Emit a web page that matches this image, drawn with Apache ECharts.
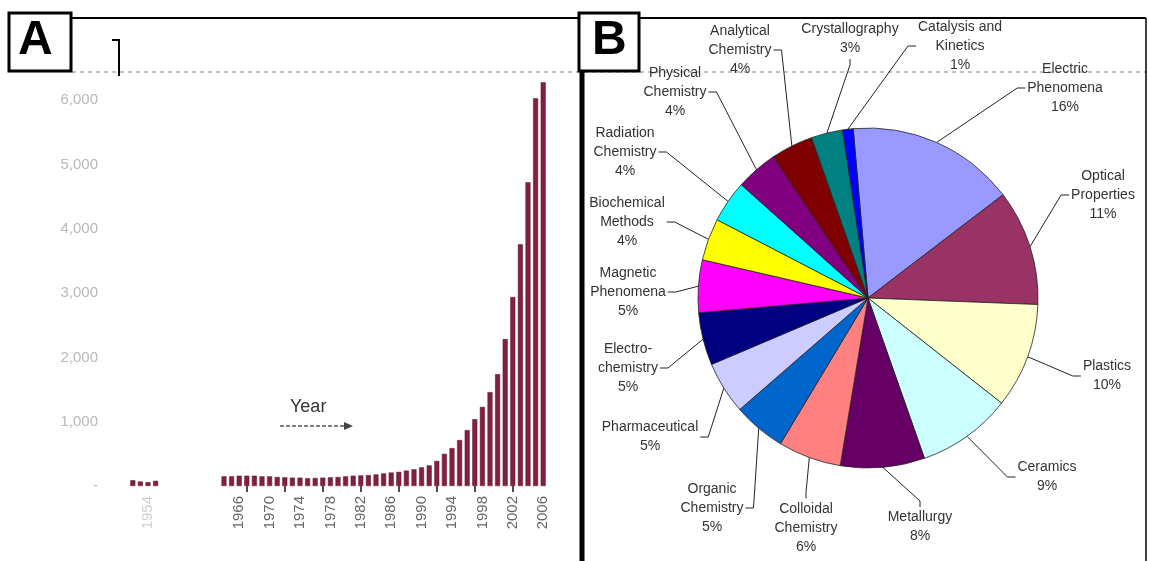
<!DOCTYPE html>
<html>
<head>
<meta charset="utf-8">
<title>Publications by year / topic</title>
<script src="https://cdn.jsdelivr.net/npm/echarts@6/dist/echarts.min.js"></script>
<style>
  html, body { margin: 0; padding: 0; background: #fff; }
  #chart { width: 1149px; height: 561px; }
</style>
</head>
<body>
<div id="chart"></div>
<script>
// panel A - papers per year
var years = ['1952', '1953', '1954', '1955', '1956', '1957', '1958', '1959', '1960', '1961', '1962', '1963',
  '1964', '1965', '1966', '1967', '1968', '1969', '1970', '1971', '1972', '1973', '1974', '1975', '1976',
  '1977', '1978', '1979', '1980', '1981', '1982', '1983', '1984', '1985', '1986', '1987', '1988', '1989',
  '1990', '1991', '1992', '1993', '1994', '1995', '1996', '1997', '1998', '1999', '2000', '2001', '2002',
  '2003', '2004', '2005', '2006']
var papers = [90, 70, 60, 80, '-', '-', '-', '-', '-', '-', '-', '-',
  150, 150, 160, 160, 160, 150, 150, 140, 135, 130, 130, 120, 125,
  130, 135, 140, 150, 160, 165, 170, 180, 195, 210, 220, 240, 260,
  290, 320, 390, 500, 590, 715, 870, 1040, 1230, 1460, 1740, 2285, 2940,
  3760, 4725, 6030, 6280]
var yTicks = [0, 1000, 2000, 3000, 4000, 5000, 6000]

// panel B - share by topic
var topics = ['Electric\nPhenomena', 'Optical\nProperties', 'Plastics', 'Ceramics', 'Metallurgy',
  'Colloidal\nChemistry', 'Organic\nChemistry', 'Pharmaceutical', 'Electro-\nchemistry',
  'Magnetic\nPhenomena', 'Biochemical\nMethods', 'Radiation\nChemistry', 'Physical\nChemistry',
  'Analytical\nChemistry', 'Crystallography', 'Catalysis and\nKinetics']
var shares = [16, 11, 10, 9, 8, 6, 5, 5, 5, 5, 4, 4, 4, 4, 3, 1]
var topicColors = ['#9999ff', '#993366', '#ffffcc', '#ccffff', '#660066', '#ff8080', '#0066cc', '#ccccff',
  '#000080', '#ff00ff', '#ffff00', '#00ffff', '#800080', '#800000', '#008080', '#0000ff']

// label placement around the pie (offset of label centre from pie centre)
var labelOffsets = [[197, -210], [235, -103], [239, 78], [179, 179], [52, 229], [-62, 230], [-156, 210],
  [-218, 139], [-240, 70], [-240, -6], [-241, -76], [-243, -146], [-193, -206], [-128, -248],
  [-18, -259], [92, -252]]

var PIE_X = 868
var PIE_Y = 298
var PIE_R = 170
var START = 95 // echarts startAngle

function midAngle(i) {
  var total = 0, before = 0
  for (var k = 0; k < shares.length; k++) {
    total += shares[k]
    if (k < i) before += shares[k]
  }
  return (90 - START) + 360 * (before + shares[i] / 2) / total
}

var chart = echarts.init(document.getElementById('chart'))

chart.setOption({
  animation: false,
  textStyle: { fontFamily: 'Arial, "Liberation Sans", sans-serif' },
  grid: { left: 129, width: 418, top: 36, bottom: 75 },
  xAxis: {
    type: 'category',
    data: years,
    axisLine: { show: false },
    axisTick: {
      show: true,
      alignWithLabel: true,
      length: 6,
      interval: function(i, v) { var y = +v; return y >= 1967 && (y - 1967) % 5 === 0 },
      lineStyle: { color: '#111', width: 1.5 }
    },
    axisLabel: {
      rotate: 90,
      fontSize: 15,
      margin: 10,
      color: function(v) { return +v < 1960 ? '#cfcfcf' : '#666' },
      interval: function(i, v) {
        var y = +v
        return y === 1954 || (y >= 1966 && (y - 1966) % 4 === 0)
      }
    }
  },
  yAxis: {
    type: 'value',
    min: 0,
    max: 7000,
    interval: 1000,
    splitLine: { show: false },
    axisLine: { show: false },
    axisTick: { show: false },
    axisLabel: {
      margin: 31,
      fontSize: 15,
      color: '#b8b8b8',
      formatter: function(v) {
        if (yTicks.indexOf(v) < 0) return ''
        return v === 0 ? '-' : (v / 1000) + ',000'
      }
    }
  },
  series: [
    {
      type: 'bar',
      data: papers,
      barWidth: 5,
      itemStyle: { color: '#82203f', borderColor: '#5e1229', borderWidth: 0.5 }
    },
    {
      type: 'pie',
      center: [PIE_X, PIE_Y],
      radius: PIE_R,
      startAngle: START,
      clockwise: true,
      avoidLabelOverlap: false,
      data: topics.map(function(t, i) {
        return { name: t, value: shares[i], itemStyle: { color: topicColors[i] } }
      }),
      itemStyle: { borderColor: '#222', borderWidth: 0.8 },
      label: {
        position: 'outside',
        fontSize: 14,
        lineHeight: 19,
        color: '#333',
        align: 'center',
        formatter: function(p) { return p.name + '\n' + p.value + '%' }
      },
      labelLine: { show: true, lineStyle: { color: '#222', width: 1 } },
      labelLayout: function(p) {
        var i = p.dataIndex
        var off = labelOffsets[i]
        var lx = PIE_X + off[0], ly = PIE_Y + off[1]
        var w = p.labelRect.width, h = p.labelRect.height
        var a = midAngle(i) * Math.PI / 180
        var sx = PIE_X + PIE_R * Math.sin(a), sy = PIE_Y - PIE_R * Math.cos(a)
        var ex, ey, bx, by
        if (Math.abs(off[0]) > Math.abs(off[1]) * 0.35) {
          var side = off[0] > 0 ? -1 : 1
          ex = lx + side * (w / 2 + 2); ey = ly
          bx = ex + side * 8; by = ey
        } else {
          var vs = off[1] > 0 ? -1 : 1
          ex = lx; ey = ly + vs * (h / 2 + 1)
          bx = ex; by = ey + vs * 6
        }
        return {
          x: lx, y: ly, align: 'center', verticalAlign: 'middle',
          labelLinePoints: [[sx, sy], [bx, by], [ex, ey]]
        }
      }
    }
  ],
  graphic: [
    // frame
    { type: 'line', shape: { x1: 72, y1: 18, x2: 1146, y2: 18 }, style: { stroke: '#000', lineWidth: 2 } },
    { type: 'line', shape: { x1: 72, y1: 72, x2: 1146, y2: 72 }, style: { stroke: '#888', lineWidth: 1, lineDash: [4, 4] } },
    { type: 'line', shape: { x1: 582, y1: 72, x2: 582, y2: 561 }, style: { stroke: '#000', lineWidth: 5 } },
    { type: 'line', shape: { x1: 1146, y1: 18, x2: 1146, y2: 561 }, style: { stroke: '#000', lineWidth: 1.5 } },
    { type: 'polyline', shape: { points: [[112, 40], [119, 40], [119, 76]] }, style: { stroke: '#000', lineWidth: 2, fill: null } },
    // panel tags
    { type: 'rect', shape: { x: 9, y: 13, width: 62, height: 58 }, style: { fill: '#fff', stroke: '#000', lineWidth: 3 } },
    { type: 'text', left: 18, top: 17, style: { text: 'A', font: 'bold 48px Arial, "Liberation Sans", sans-serif', fill: '#000' } },
    { type: 'rect', shape: { x: 579, y: 13, width: 60, height: 58 }, style: { fill: '#fff', stroke: '#000', lineWidth: 3 } },
    { type: 'text', left: 592, top: 17, style: { text: 'B', font: 'bold 48px Arial, "Liberation Sans", sans-serif', fill: '#000' } },
    // year arrow
    { type: 'text', left: 290, top: 398, style: { text: 'Year', font: '18px Arial, "Liberation Sans", sans-serif', fill: '#333' } },
    { type: 'line', shape: { x1: 280, y1: 426, x2: 345, y2: 426 }, style: { stroke: '#555', lineWidth: 1.5, lineDash: [4, 2] } },
    { type: 'polygon', shape: { points: [[344, 422], [353, 426], [344, 430]] }, style: { fill: '#444' } }
  ]
})
</script>
</body>
</html>
